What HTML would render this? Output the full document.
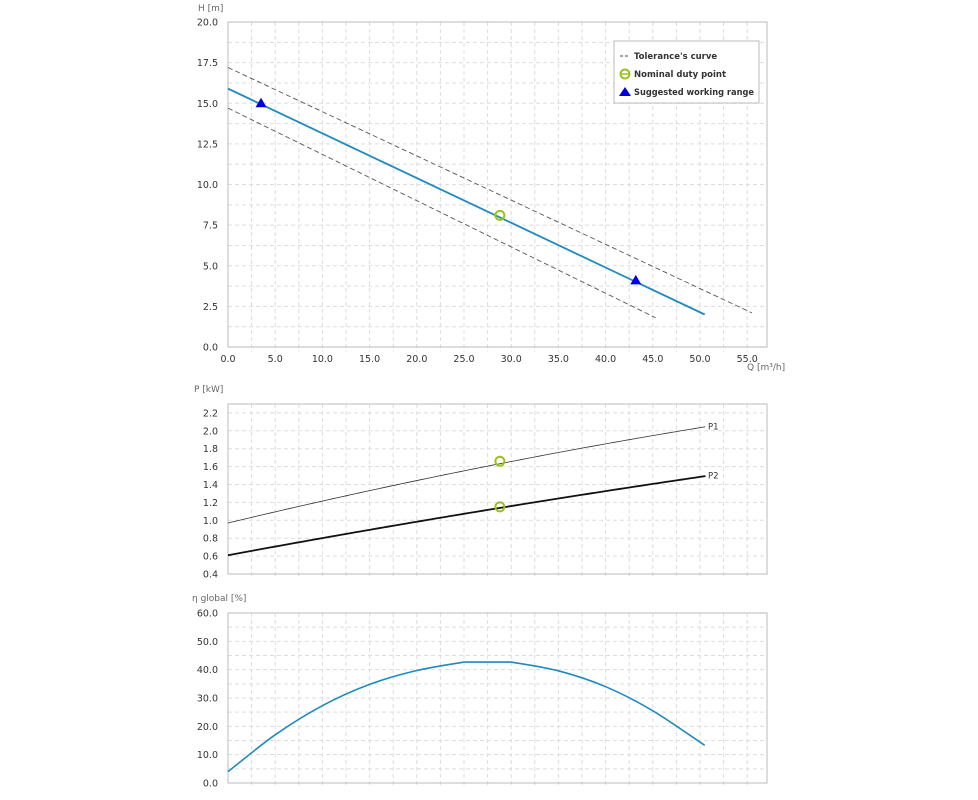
<!DOCTYPE html>
<html><head><meta charset="utf-8"><style>
html,body{margin:0;padding:0;background:#fff;width:978px;height:800px;overflow:hidden}
svg{display:block;font-family:"DejaVu Sans","Liberation Sans",sans-serif}
</style></head><body>
<svg id="s" width="978" height="800" xmlns="http://www.w3.org/2000/svg">
<g id="grid"></g>
<text x="198" y="11" font-size="9" fill="#666">H [m]</text>
<text x="747" y="370" font-size="9" fill="#666">Q [m³/h]</text>
<text x="194" y="392" font-size="9" fill="#666">P [kW]</text>
<text x="192" y="601" font-size="9" fill="#666">η global [%]</text>
<g id="lbl" font-size="9.5" fill="#333"></g>
<g id="curves"></g>
<g>
<rect x="614" y="41" width="145" height="62" fill="#fff" stroke="#bbb"/>
<line x1="620" y1="56" x2="630" y2="56" stroke="#444" stroke-dasharray="3,2"/>
<text x="634" y="59" font-size="8.5" font-weight="bold" fill="#333">Tolerance's curve</text>
<circle cx="625" cy="74" r="4.5" fill="none" stroke="#9bc21a" stroke-width="2"/>
<line x1="621" y1="74" x2="629" y2="74" stroke="#9bc21a" stroke-width="1.5"/>
<text x="634" y="77" font-size="8.5" font-weight="bold" fill="#333">Nominal duty point</text>
<polygon points="625,87 631,96 619,96" fill="#0000dd"/>
<text x="634" y="95" font-size="8.5" font-weight="bold" fill="#333" textLength="120" lengthAdjust="spacingAndGlyphs">Suggested working range</text>
</g>
</svg>
<script>
var NS="http://www.w3.org/2000/svg";
function el(p,t,a,txt){var e=document.createElementNS(NS,t);for(var k in a)e.setAttribute(k,a[k]);if(txt!==undefined)e.textContent=txt;document.getElementById(p).appendChild(e);return e;}
var L=228,R=767,k=9.44;
function X(q){return L+q*k;}
function vgrid(top,bot){for(var q=2.5;X(q)<R-2;q+=2.5){el("grid","line",{x1:X(q),x2:X(q),y1:top,y2:bot+5,stroke:"#ddd","stroke-dasharray":"4,3"});}}
function hl(y){el("grid","line",{x1:L,x2:R,y1:y,y2:y,stroke:"#ddd","stroke-dasharray":"4,3"});}
function box(top,bot){el("grid","rect",{x:L,y:top,width:R-L,height:bot-top,fill:"none",stroke:"#bbb"});}
// H chart
for(var i=1;i<16;i++)hl(22+i*325/16);
vgrid(22,347);box(22,347);
// P chart
for(var i=1;i<=9;i++)hl(574-i*17.9);
vgrid(404,574);box(404,574);
// eta
for(var i=1;i<12;i++)hl(613+i*170/12);
vgrid(613,783);box(613,783);
// labels H
for(var i=0;i<=8;i++){var y=347-i*40.625;el("lbl","text",{x:218,y:y+3.5,"text-anchor":"end"},(i*2.5).toFixed(1));}
for(var i=0;i<=11;i++){el("lbl","text",{x:X(i*5),y:362,"text-anchor":"middle"},(i*5).toFixed(1));}
for(var i=0;i<=9;i++){var v=0.4+i*0.2;var y=574-i*17.9;el("lbl","text",{x:218,y:y+3.5,"text-anchor":"end"},v.toFixed(1));}
for(var i=0;i<=6;i++){var y=783-i*28.33;el("lbl","text",{x:218,y:y+3.5,"text-anchor":"end"},(i*10).toFixed(1));}
// H curves
function HY(h){return 347-h*16.25;}
el("curves","line",{x1:X(0),y1:HY(17.2),x2:X(55.5),y2:HY(2.1),stroke:"#555","stroke-dasharray":"5,3","stroke-width":0.9});
el("curves","line",{x1:X(0),y1:HY(14.7),x2:X(45.3),y2:HY(1.8),stroke:"#555","stroke-dasharray":"5,3","stroke-width":0.9});
el("curves","line",{x1:X(0),y1:HY(15.9),x2:X(50.5),y2:HY(2.0),stroke:"#1f8ac0","stroke-width":1.8});
function tri(x,y){el("curves","polygon",{points:(x)+","+(y-5.5)+" "+(x+5.5)+","+(y+4)+" "+(x-5.5)+","+(y+4),fill:"#0000dd"});}
tri(X(3.5),HY(15.0));tri(X(43.2),HY(4.1));
function circ(x,y){el("curves","circle",{cx:x,cy:y,r:4.5,fill:"none",stroke:"#9bc21a","stroke-width":2});}
circ(X(28.8),HY(8.1));
// P
function PY(p){return 574-(p-0.4)*89.5;}
var p1=[],p2=[];
for(var q=0;q<=50.5;q+=0.5){p1.push(X(q)+","+PY(0.97+0.0253*q-0.00008*q*q));p2.push(X(q)+","+PY(0.61+0.0195*q-0.00004*q*q));}
p1.push(X(50.5)+","+PY(2.05));p2.push(X(50.5)+","+PY(1.5));
el("curves","polyline",{points:p1.join(" "),fill:"none",stroke:"#333","stroke-width":0.8});
el("curves","polyline",{points:p2.join(" "),fill:"none",stroke:"#111","stroke-width":1.8});
el("lbl","text",{x:708,y:PY(2.05)+3,"font-size":"8.5"},"P1");
el("lbl","text",{x:708,y:PY(1.5)+3,"font-size":"8.5"},"P2");
circ(X(28.8),PY(1.66));circ(X(28.8),PY(1.15));
// eta
function EY(e){return 783-e*2.833;}
function curve(pts){
var d="M"+X(pts[0][0])+","+EY(pts[0][1]);
for(var i=0;i<pts.length-1;i++){
 var p0=pts[Math.max(0,i-1)],a=pts[i],b=pts[i+1],p3=pts[Math.min(pts.length-1,i+2)];
 var c1x=X(a[0])+(X(b[0])-X(p0[0]))/6,c1y=EY(a[1])+(EY(b[1])-EY(p0[1]))/6;
 var c2x=X(b[0])-(X(p3[0])-X(a[0]))/6,c2y=EY(b[1])-(EY(p3[1])-EY(a[1]))/6;
 d+=" C"+c1x+","+c1y+" "+c2x+","+c2y+" "+X(b[0])+","+EY(b[1]);
}return d;}
var d1=curve([[0,4],[5,17],[10,27.3],[15,34.8],[20,39.7],[25,42.7]]);
var d2=curve([[30,42.7],[35,39.6],[40,34],[45,25.5],[50.5,13.3]]);
el("curves","path",{d:d1+" L"+X(30)+","+EY(42.7)+" "+d2.replace("M","L"),fill:"none",stroke:"#1f8ac0","stroke-width":1.6});
</script>
</body></html>
